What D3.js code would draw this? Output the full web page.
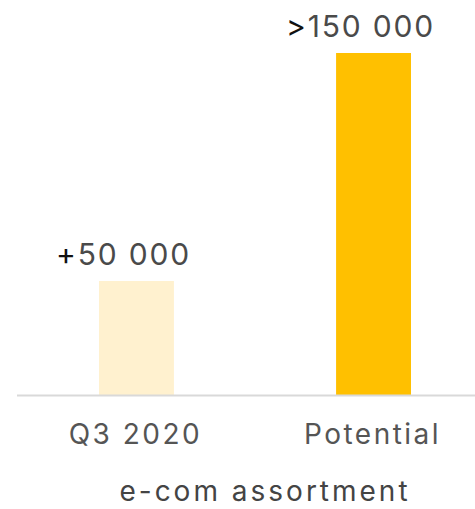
<!DOCTYPE html>
<html>
<head>
<meta charset="utf-8">
<script src="https://cdn.jsdelivr.net/npm/d3@7"></script>
<style>
  body { margin: 0; background: #fff; }
  svg { display: block; font-family: "Inter", "Roboto", sans-serif; }
</style>
</head>
<body>
<svg id="chart" width="475" height="509"></svg>
<script>
const categories = ["Q3 2020", "Potential"];
const values = [50000, 150000];
const labelPrefixes = ["+", ">"];
const labelNumbers = ["50 000", "150 000"];
const axisTitle = "e-com assortment";

const colors = ["#FFF1CF", "#FFC000"];

const svg = d3.select("#chart");
const baseline = 395;

const x = d3
  .scaleBand()
  .domain(categories)
  .range([35, 475])
  .paddingInner(0.684)
  .paddingOuter(0.27);

const y = d3.scaleLinear().domain([0, 150000]).range([baseline, 53]);

// bars
svg
  .selectAll(".bar")
  .data(categories)
  .enter()
  .append("rect")
  .attr("class", "bar")
  .attr("x", (d) => x(d))
  .attr("width", x.bandwidth())
  .attr("y", (d, i) => y(values[i]))
  .attr("height", (d, i) => baseline - y(values[i]))
  .attr("fill", (d, i) => colors[i]);

// baseline
svg
  .append("line")
  .attr("x1", 17)
  .attr("x2", 475)
  .attr("y1", baseline + 0.5)
  .attr("y2", baseline + 0.5)
  .attr("stroke", "#d9d9d9")
  .attr("stroke-width", 2);

// value labels
const labels = svg
  .selectAll(".value-label")
  .data(categories)
  .enter()
  .append("text")
  .attr("class", "value-label")
  .attr("x", (d) => x(d) + x.bandwidth() / 2 - 13)
  .attr("y", (d, i) => y(values[i]) - 16)
  .attr("text-anchor", "middle")
  .style("font-size", "30px")
  .style("letter-spacing", "1.8px");

labels
  .append("tspan")
  .attr("fill", "#111")
  .text((d, i) => labelPrefixes[i]);
labels
  .append("tspan")
  .attr("fill", "#4a4a4a")
  .text((d, i) => labelNumbers[i]);

// category labels
svg
  .selectAll(".cat-label")
  .data(categories)
  .enter()
  .append("text")
  .attr("class", "cat-label")
  .attr("x", (d) => x(d) + x.bandwidth() / 2 - 1)
  .attr("y", 444)
  .attr("text-anchor", "middle")
  .attr("fill", "#555")
  .style("font-size", "28px")
  .style("letter-spacing", "2.5px")
  .text((d) => d);

// axis title
svg
  .append("text")
  .attr("x", 265)
  .attr("y", 501)
  .attr("text-anchor", "middle")
  .attr("fill", "#444")
  .style("font-size", "28px")
  .style("letter-spacing", "3px")
  .text(axisTitle);
</script>
</body>
</html>
